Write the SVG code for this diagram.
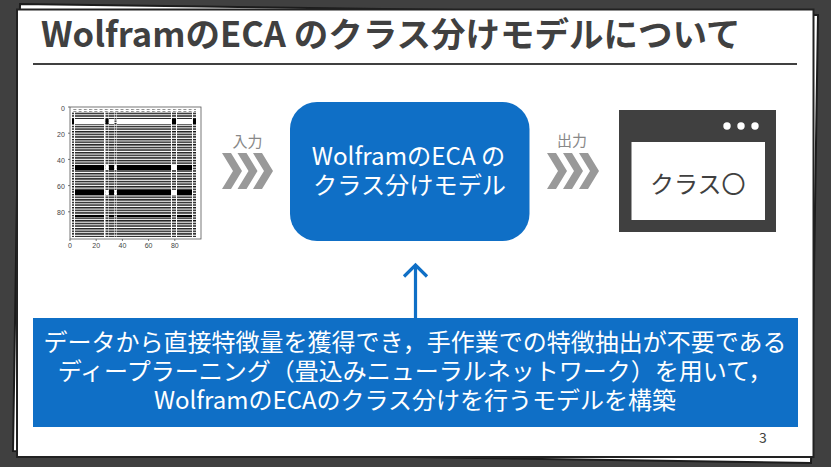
<svg xmlns="http://www.w3.org/2000/svg" width="831" height="467" viewBox="0 0 831 467">
<style>
text{font-family:"Noto Sans CJK JP","Noto Sans",sans-serif}
.w{fill:#fff}
.t{fill:#404040}
.b{fill:#0f6fc6}
.c{fill:#999}
.tick{font-family:"Liberation Sans",sans-serif;font-size:7px;fill:#444;text-anchor:middle}
.ax{stroke:#555;stroke-width:.8;fill:none}
</style>
<defs>
<filter id="soft" x="-5%" y="-5%" width="110%" height="110%"><feGaussianBlur stdDeviation="0.35"/></filter>
<pattern id="st" width="2.62" height="2.62" patternUnits="userSpaceOnUse"><rect width="2.62" height="2.62" fill="#fff"/><rect width="2.62" height="1.5" fill="#222"/></pattern>
<pattern id="dt" width="2.62" height="2.62" patternUnits="userSpaceOnUse"><rect width="2.62" height="2.62" fill="#fff"/><rect width="2.62" height="1.4" fill="#111"/></pattern>
<pattern id="tp" width="5.240" height="3" patternUnits="userSpaceOnUse"><rect width="3" height="2" fill="#222"/></pattern>
<path id="ch" d="M0 0H9L20 18 9 36H0L11 18Z"/>
</defs>
<rect width="831" height="467" fill="#404040"/>
<path d="M20 4 818 15 811 463 13 451Z" fill="#fff" stroke="#1c1c1c" stroke-width="2"/>
<rect x="17" y="9.500" width="796.500" height="447.500" fill="#fff" stroke="#222" stroke-width="2"/>
<g id="title">
<text class="t" x="41" y="47" font-size="34.500" font-weight="700">WolframのECA のクラス分けモデルについて</text>
<path d="M33 64H797" stroke="#404040" stroke-width="2"/>
</g>
<g id="input-heatmap">
<rect x="70" y="107" width="131" height="132" fill="#fff"/>
<g filter="url(#soft)">
<g fill="url(#st)">
<rect x="75" y="124" width="29" height="113"/>
<rect x="109" y="124" width="5" height="113"/>
<rect x="117" y="124" width="54" height="113"/>
<rect x="177" y="124" width="15" height="113"/>
<rect x="75" y="112" width="29" height="7"/>
<rect x="109" y="112" width="5" height="7"/>
<rect x="117" y="112" width="54" height="7"/>
<rect x="177" y="112" width="15" height="7"/>
</g>
<rect x="72" y="109.500" width="124" height="2" fill="url(#tp)"/>
<g fill="url(#dt)">
<rect x="72" y="112" width="2" height="125"/>
<rect x="105.500" y="112" width="3" height="125"/>
<rect x="114.500" y="112" width="2" height="125"/>
<rect x="172" y="112" width="4" height="125"/>
<rect x="193" y="112" width="3" height="125"/>
</g>
<g fill="#fff">
<rect x="75" y="119" width="29" height="5"/>
<rect x="117" y="119" width="54" height="5"/>
<rect x="177" y="119" width="15" height="5"/>
</g>
<g fill="#000">
<rect x="75" y="165" width="29" height="5"/>
<rect x="109" y="165" width="5" height="5"/>
<rect x="117" y="165" width="54" height="5"/>
<rect x="177" y="165" width="15" height="5"/>
<rect x="75" y="190" width="29" height="5"/>
<rect x="109" y="190" width="5" height="5"/>
<rect x="117" y="190" width="54" height="5"/>
<rect x="177" y="190" width="15" height="5"/>
<rect x="75" y="215" width="29" height="2"/>
<rect x="109" y="215" width="5" height="2"/>
<rect x="117" y="215" width="54" height="2"/>
<rect x="177" y="215" width="15" height="2"/>
<rect x="105.500" y="119" width="3" height="5"/>
<rect x="172" y="119" width="4" height="5"/>
<rect x="72" y="119" width="2" height="5"/>
<rect x="193" y="119" width="3" height="5"/>
</g>
<g fill="#fff">
<rect x="105.500" y="165" width="3" height="5"/>
<rect x="114.500" y="165" width="2" height="5"/>
<rect x="172" y="165" width="4" height="5"/>
<rect x="105.500" y="190" width="3" height="5"/>
<rect x="114.500" y="190" width="2" height="5"/>
<rect x="172" y="190" width="4" height="5"/>
</g>
</g>
<rect class="ax" x="70" y="107" width="131" height="132"/>
<path class="ax" d="M70 107h-2M70 133.200h-2M70 159.400h-2M70 185.600h-2M70 211.800h-2M70 239v2M96.200 239v2M122.400 239v2M148.600 239v2M174.800 239v2"/>
<text class="tick" x="63" y="110.500">0</text>
<text class="tick" x="61" y="136.500">20</text>
<text class="tick" x="61" y="162.700">40</text>
<text class="tick" x="61" y="188.900">60</text>
<text class="tick" x="61" y="215.100">80</text>
<text class="tick" x="70" y="248">0</text>
<text class="tick" x="96.200" y="248">20</text>
<text class="tick" x="122.400" y="248">40</text>
<text class="tick" x="148.600" y="248">60</text>
<text class="tick" x="174.800" y="248">80</text>
</g>
<g id="model">
<rect class="b" x="290" y="102" width="239.500" height="139" rx="27"/>
<text class="w" x="408.500" y="165" font-size="24.200" text-anchor="middle">WolframのECA の</text>
<text class="w" x="409.500" y="194" font-size="24.200" text-anchor="middle">クラス分けモデル</text>
</g>
<g id="output-window">
<rect class="t" x="619" y="110" width="157" height="122"/>
<rect class="w" x="631.500" y="142" width="133.500" height="78"/>
<circle class="w" cx="727" cy="126" r="3.700"/>
<circle class="w" cx="741" cy="126" r="3.700"/>
<circle class="w" cx="755" cy="126" r="3.700"/>
<text class="t" x="650" y="193" font-size="24">クラス〇</text>
</g>
<g id="connectors">
<g class="c">
<use href="#ch" x="222" y="153"/><use href="#ch" x="237.500" y="153"/><use href="#ch" x="253" y="153"/>
<use href="#ch" x="547" y="153"/><use href="#ch" x="563" y="153"/><use href="#ch" x="579" y="153"/>
</g>
<text x="247.500" y="147" font-size="15" fill="#888" text-anchor="middle">入力</text>
<text x="572" y="146" font-size="15" fill="#888" text-anchor="middle">出力</text>
<path d="M415.500 318V265M404 276.500 415.500 265 427 276.500" fill="none" stroke="#0f6fc6" stroke-width="3.200"/>
</g>
<g id="banner">
<rect class="b" x="33" y="318" width="765" height="109"/>
<text class="w" x="415" y="351" font-size="24" text-anchor="middle">データから直接特徴量を獲得でき，手作業での特徴抽出が不要である</text>
<text class="w" x="415" y="380" font-size="24" text-anchor="middle">ディープラーニング（畳込みニューラルネットワーク）を用いて，</text>
<text class="w" x="415" y="409" font-size="24" text-anchor="middle">WolframのECAのクラス分けを行うモデルを構築</text>
</g>
<text id="page" x="763" y="443" font-size="14" fill="#404040" text-anchor="middle">3</text>
</svg>
